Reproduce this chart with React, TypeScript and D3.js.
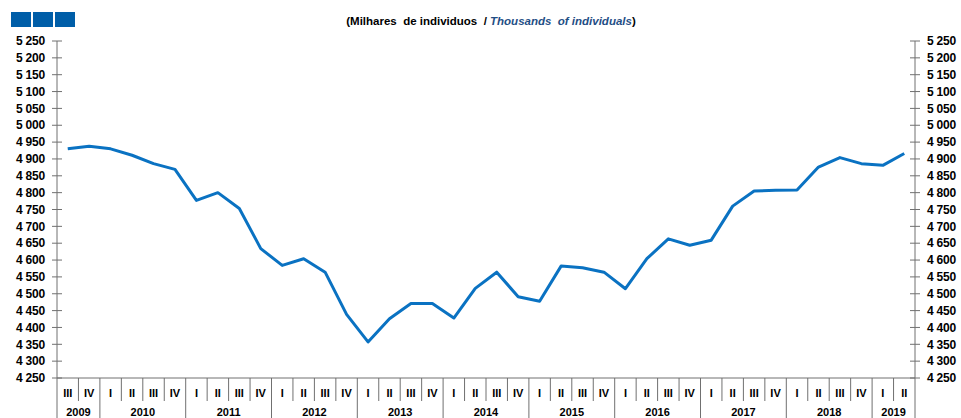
import React from 'react';
import * as d3 from 'd3';

const years = ['2009', '2010', '2011', '2012', '2013', '2014', '2015', '2016', '2017', '2018', '2019'];
const quarterLabels = [
  'III', 'IV',
  'I', 'II', 'III', 'IV',
  'I', 'II', 'III', 'IV',
  'I', 'II', 'III', 'IV',
  'I', 'II', 'III', 'IV',
  'I', 'II', 'III', 'IV',
  'I', 'II', 'III', 'IV',
  'I', 'II', 'III', 'IV',
  'I', 'II', 'III', 'IV',
  'I', 'II', 'III', 'IV',
  'I', 'II',
];
const quarterYear = [
  '2009', '2009',
  '2010', '2010', '2010', '2010',
  '2011', '2011', '2011', '2011',
  '2012', '2012', '2012', '2012',
  '2013', '2013', '2013', '2013',
  '2014', '2014', '2014', '2014',
  '2015', '2015', '2015', '2015',
  '2016', '2016', '2016', '2016',
  '2017', '2017', '2017', '2017',
  '2018', '2018', '2018', '2018',
  '2019', '2019',
];
const values = [
  4930, 4938,
  4930, 4911, 4886, 4869,
  4777, 4800, 4753, 4634,
  4584, 4604, 4564, 4439,
  4357, 4426, 4471, 4471,
  4428, 4516, 4564, 4491,
  4478, 4582, 4577, 4564,
  4515, 4604, 4663, 4644,
  4659, 4760, 4805, 4807,
  4808, 4876, 4904, 4886,
  4881, 4916,
];
const yTicks = d3.range(4250, 5251, 50);

const W = 961;
const H = 418;
const left = 57;
const right = 915;
const top = 41;
const bottom = 378;

const fmt = (v: number) => {
  const s = String(v);
  return s.slice(0, s.length - 3) + ' ' + s.slice(-3);
};

export default function App() {
  const keys = values.map((_, i) => String(i));
  const x = d3.scaleBand<string>().domain(keys).range([left, right]).paddingInner(0).paddingOuter(0);
  const y = d3.scaleLinear().domain([4250, 5250]).range([bottom, top]);

  const line = d3.line<number>()
    .x((_, i) => (x(String(i)) as number) + x.bandwidth() / 2)
    .y((d) => y(d));

  const font = '"Liberation Sans", Arial, sans-serif';
  const axisColor = '#707070';

  // year spans
  const yearSpans = years.map((yr) => {
    const idx = quarterYear.map((q, i) => (q === yr ? i : -1)).filter((i) => i >= 0);
    const x0 = x(String(idx[0])) as number;
    const x1 = (x(String(idx[idx.length - 1])) as number) + x.bandwidth();
    return { yr, x0, x1 };
  });

  return (
    <svg width={W} height={H} style={{ position: 'absolute', left: 0, top: 0, background: '#fff' }}>
      {/* top-left blocks */}
      {[0, 1, 2].map((i) => (
        <rect key={i} x={11 + i * 22} y={12} width={20} height={15} fill="#005ea8" />
      ))}

      {/* title */}
      <text x={491} y={25} textAnchor="middle" fontFamily={font} fontWeight="bold" fontSize={11.5} style={{ whiteSpace: 'pre' }}>
        <tspan fill="#000">{'(Milhares  de individuos  / '}</tspan>
        <tspan fill="#1f4e85" fontStyle="italic">{'Thousands  of individuals'}</tspan>
        <tspan fill="#000">{')'}</tspan>
      </text>

      {/* left axis */}
      <line x1={left} x2={left} y1={top} y2={H} stroke={axisColor} strokeWidth={1} />
      <line x1={right} x2={right} y1={top} y2={H} stroke={axisColor} strokeWidth={1} />
      {yTicks.map((t) => (
        <g key={t}>
          <line x1={left - 5} x2={left + 5} y1={y(t)} y2={y(t)} stroke={axisColor} />
          <line x1={right - 5} x2={right + 5} y1={y(t)} y2={y(t)} stroke={axisColor} />
          <text x={45} y={y(t)} dy="0.35em" textAnchor="end" fontFamily={font} fontWeight="bold" fontSize={12} letterSpacing={-0.2} style={{ whiteSpace: 'pre' }}>
            {fmt(t)}
          </text>
          <text x={927} y={y(t)} dy="0.35em" textAnchor="start" fontFamily={font} fontWeight="bold" fontSize={12} letterSpacing={-0.2} style={{ whiteSpace: 'pre' }}>
            {fmt(t)}
          </text>
        </g>
      ))}

      {/* bottom axis */}
      <line x1={left} x2={right} y1={bottom} y2={bottom} stroke={axisColor} />
      {keys.map((k, i) => {
        const xs = x(k) as number;
        const isYearStart = i === 0 || quarterYear[i] !== quarterYear[i - 1];
        return (
          <g key={k}>
            {i > 0 && (
              <line x1={xs} x2={xs} y1={bottom} y2={isYearStart ? H : 401} stroke={axisColor} />
            )}
            <text x={xs + x.bandwidth() / 2} y={393} dy="0.35em" textAnchor="middle" fontFamily={font} fontWeight="bold" fontSize={11}>
              {quarterLabels[i]}
            </text>
          </g>
        );
      })}
      {yearSpans.map((s) => (
        <text key={s.yr} x={(s.x0 + s.x1) / 2} y={412} dy="0.35em" textAnchor="middle" fontFamily={font} fontWeight="bold" fontSize={11}>
          {s.yr}
        </text>
      ))}

      {/* series */}
      <path d={line(values) || ''} fill="none" stroke="#0a72c2" strokeWidth={3} strokeLinejoin="round" />
    </svg>
  );
}
